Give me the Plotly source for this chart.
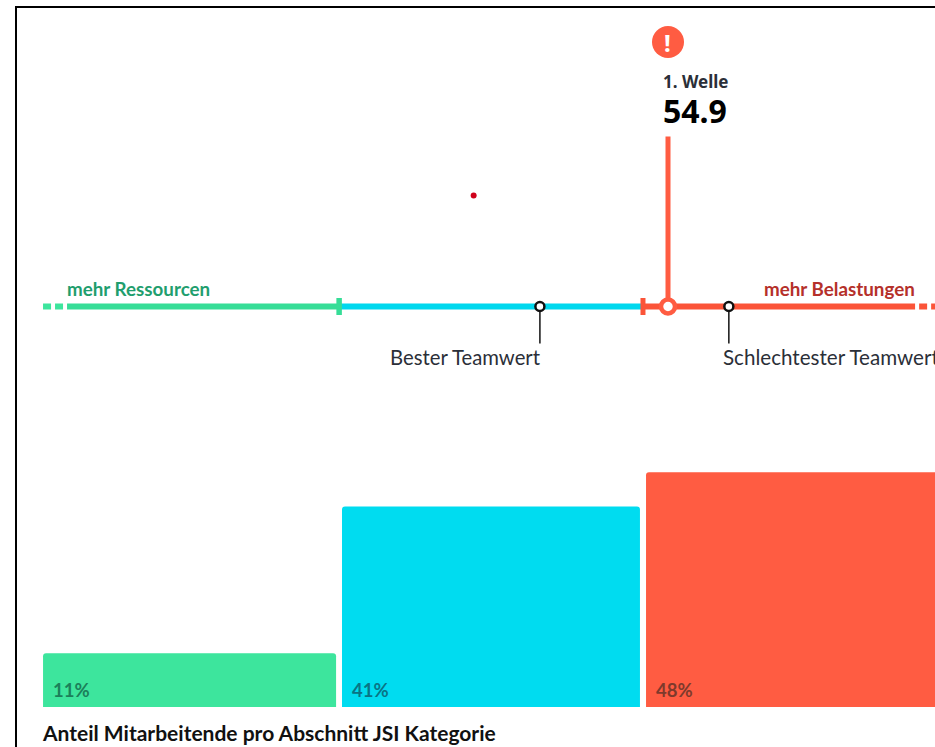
import plotly.graph_objects as go

# ---- data (JSI scale) ----
categories = ["Ressourcen", "Ausgeglichen", "Belastungen"]
shares = [11, 41, 48]
share_labels = ["11%", "41%", "48%"]
bar_left = [36.41, 45.255, 54.25]
bar_right = [45.08, 54.07, 63.5]
scale_start = 36.41
dash_end_left = 37.12
threshold_low = 45.17
threshold_high = 54.16
solid_end_right = 62.21
dash_start_right = 62.33
scale_end = 62.6
wave_value = 54.9
best_team = 51.11
worst_team = 56.70
stray_x = [49.15]
stray_y = [111]

GREEN, BLUE, RED = "#3de59d", "#00dcf0", "#ff5c42"
PX_PER_UNIT = 33.8
X_MIN = wave_value - 668 / PX_PER_UNIT
X_MAX = wave_value + (935 - 668) / PX_PER_UNIT
W, H = 935, 747
F_HEAD = "Noto Sans"
F_BODY = "Lato"

fig = go.Figure()


def seg(x, y, color, width, dash="solid"):
    fig.add_trace(go.Scatter(x=x, y=y, mode="lines", hoverinfo="skip", showlegend=False,
                             line=dict(color=color, width=width, dash=dash)))


# bars
fig.add_trace(go.Bar(
    x=[(a + b) / 2 for a, b in zip(bar_left, bar_right)],
    width=[b - a for a, b in zip(bar_left, bar_right)],
    y=shares, yaxis="y2", customdata=categories, showlegend=False,
    marker=dict(color=[GREEN, BLUE, RED], line_width=0),
))

# scale line
seg([scale_start, dash_end_left], [0, 0], GREEN, 6, "8px,4px")
seg([dash_end_left, threshold_low], [0, 0], "#36dd97", 6)
seg([threshold_low, threshold_high], [0, 0], "#00d8ee", 6)
seg([threshold_high, solid_end_right], [0, 0], "#fb5438", 6)
seg([dash_start_right, scale_end + 1], [0, 0], "#fb5438", 6, "8px,4px")
seg([threshold_low, threshold_low], [-8.5, 8.5], "#36dd97", 5.5)
seg([threshold_high, threshold_high], [-8.5, 8.5], "#fb5438", 5)

# stem of the first wave
seg([wave_value, wave_value], [0, 170], RED, 5)

# team pointers
seg([best_team, best_team], [0, -37], "#222222", 1.6)
seg([worst_team, worst_team], [0, -37], "#222222", 1.6)

fig.add_trace(go.Scatter(x=[wave_value], y=[0], mode="markers", hoverinfo="skip", showlegend=False,
                         marker=dict(size=14, color="white", line=dict(color=RED, width=4.5))))
fig.add_trace(go.Scatter(x=[best_team, worst_team], y=[0, 0], mode="markers", hoverinfo="skip", showlegend=False,
                         marker=dict(size=9, color="white", line=dict(color="#111111", width=2.5))))
fig.add_trace(go.Scatter(x=stray_x, y=stray_y, mode="markers", hoverinfo="skip", showlegend=False,
                         marker=dict(size=6, color="#d0021b")))
fig.add_trace(go.Scatter(x=[wave_value], y=[264.5], mode="markers", hoverinfo="skip", showlegend=False,
                         marker=dict(size=32, color=RED)))


def note(text, x, y, size, color, anchor="left", weight="normal", family=F_BODY, yref="y", xshift=0, yshift=0):
    fig.add_annotation(text=text, x=x, y=y, xref="x", yref=yref, showarrow=False,
                       xanchor=anchor, yanchor="middle", xshift=xshift, yshift=yshift,
                       font=dict(size=size, color=color, family=family, weight=weight),
                       borderpad=0, borderwidth=0)


note("!", wave_value, 264.5, 24, "white", "center", "bold", F_HEAD, xshift=-1)
note("1. Welle", wave_value, 225, 17, "#2b2f38", "left", "bold", F_HEAD, xshift=-5.5)
note(f"{wave_value}", wave_value, 196.5, 32, "#000000", "left", "bold", F_HEAD, xshift=-5.5)
note("mehr Ressourcen", dash_end_left, 18, 18.8, "#1f9e6e", "left", "bold")
note("mehr Belastungen", solid_end_right, 18, 18.8, "#b5302a", "right", "bold")
note("Bester Teamwert", best_team, -50, 20.3, "#2b2f38", "right", xshift=1)
note("Schlechtester Teamwert", worst_team, -50, 20.6, "#2b2f38", "left", xshift=-5.5)
label_colors = ["#1c7f5a", "#0a7485", "#7e3a2c"]
for left, lab, col in zip(bar_left, share_labels, label_colors):
    note(lab, left, 0, 18.5, col, "left", "bold", yref="y2", xshift=10, yshift=17.5)
note("Anteil Mitarbeitende pro Abschnitt JSI Kategorie", scale_start, -425.5, 21, "#111111", "left", "bold", xshift=-1)

# frame of the surrounding page
fig.add_shape(type="path", xref="paper", yref="paper", layer="above",
              path=f"M {16/W} 0 L {16/W} {1-7/H} L 1 {1-7/H}",
              line=dict(color="#000000", width=2))

fig.update_layout(
    width=W, height=H, margin=dict(l=0, r=0, t=0, b=0),
    paper_bgcolor="white", plot_bgcolor="white",
    barmode="overlay", barcornerradius=3, showlegend=False,
    xaxis=dict(range=[X_MIN, X_MAX], visible=False, fixedrange=True),
    yaxis=dict(range=[-440.5, 306.5], domain=[0, 1], visible=False, fixedrange=True),
    yaxis2=dict(range=[0, 60], domain=[40 / H, (40 + 60 * 4.89) / H], visible=False,
                fixedrange=True, anchor="x"),
)

fig.write_html("out.html", config={"displayModeBar": False},
               post_script="document.body.style.margin='0';document.body.style.overflow='hidden';")
